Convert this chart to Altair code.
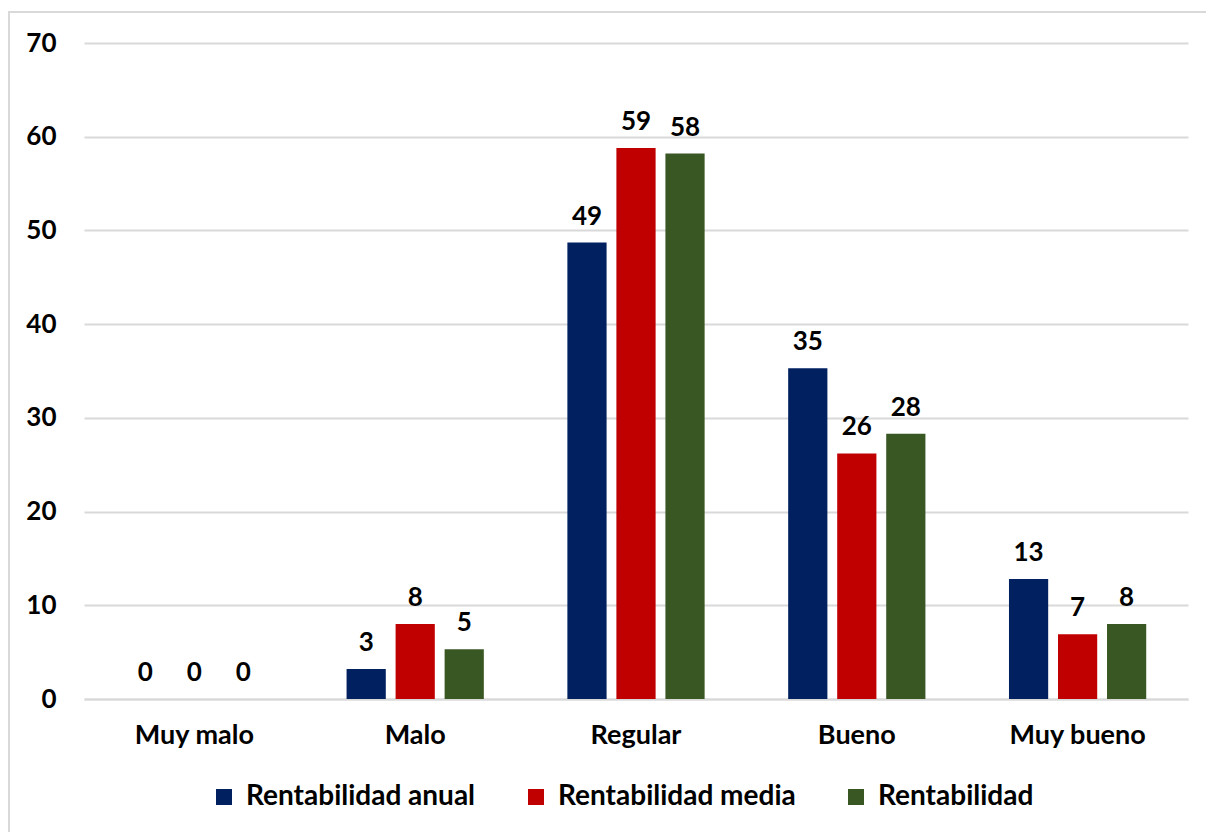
import altair as alt
import pandas as pd

categories = ["Muy malo", "Malo", "Regular", "Bueno", "Muy bueno"]
series = ["Rentabilidad anual", "Rentabilidad media", "Rentabilidad"]
anual = [0, 3.2, 48.7, 35.3, 12.8]
media = [0, 8.0, 58.8, 26.2, 6.9]
rentab = [0, 5.3, 58.2, 28.3, 8.0]
colors = ["#002060", "#C00000", "#385723"]
y_ticks = [0, 10, 20, 30, 40, 50, 60, 70]

rows = []
for s, vals in zip(series, [anual, media, rentab]):
    for c, v in zip(categories, vals):
        rows.append({"cat": c, "serie": s, "valor": v, "etiqueta": str(int(round(v)))})
df = pd.DataFrame(rows)

FONT = "Lato"

x_enc = alt.X("cat:N", sort=categories, title=None,
              scale=alt.Scale(paddingInner=0.334, paddingOuter=0.167),
              axis=alt.Axis(labelAngle=0, labelFontSize=27, labelFontWeight="bold",
                            labelColor="#000000", labelPadding=23, ticks=False,
                            domain=True, domainColor="#d9d9d9", domainWidth=2,
                            labelFont=FONT, labelLimit=0))
xo_enc = alt.XOffset("serie:N", sort=series,
                     scale=alt.Scale(paddingInner=0.2, paddingOuter=0.1))
y_enc = alt.Y("valor:Q", title=None,
              scale=alt.Scale(domain=[0, 70], nice=False),
              axis=alt.Axis(values=y_ticks, labelFontSize=26, labelFontWeight="bold",
                            labelColor="#000000", labelPadding=28, ticks=False,
                            domain=False, gridColor="#d9d9d9", gridWidth=2,
                            labelFont=FONT))

bars = alt.Chart(df).mark_bar().encode(
    x=x_enc, xOffset=xo_enc, y=y_enc,
    color=alt.Color("serie:N", sort=series,
                    scale=alt.Scale(domain=series, range=colors),
                    legend=alt.Legend(title=None, orient="none", direction="horizontal",
                                      legendX=126, legendY=740,
                                      symbolType="square", symbolSize=256,
                                      symbolStrokeWidth=0, symbolOpacity=1,
                                      labelFontSize=28, labelFontWeight="bold",
                                      labelColor="#000000", labelFont=FONT,
                                      labelLimit=0,
                                      columnPadding=46, symbolOffset=0, labelOffset=8)),
)

labels = alt.Chart(df).mark_text(
    fontSize=26, fontWeight="bold", color="#000000", baseline="alphabetic",
    dy=-18, font=FONT
).encode(x=x_enc, xOffset=xo_enc, y=y_enc, text="etiqueta:N")

border = alt.Chart(pd.DataFrame({"a": [0]})).mark_rect(
    fill=None, stroke="#d9d9d9", strokeWidth=2
).encode(x=alt.value(-75), x2=alt.value(1130), y=alt.value(-31), y2=alt.value(795))

chart = alt.layer(border, bars, labels).properties(
    width=1104, height=656,
    autosize=alt.AutoSizeParams(type="none"),
    padding={"left": 84, "top": 43, "right": 18, "bottom": 133},
    background="#ffffff",
).configure_view(stroke=None)

chart.save("out.html", embed_options={"renderer": "svg", "actions": False})
